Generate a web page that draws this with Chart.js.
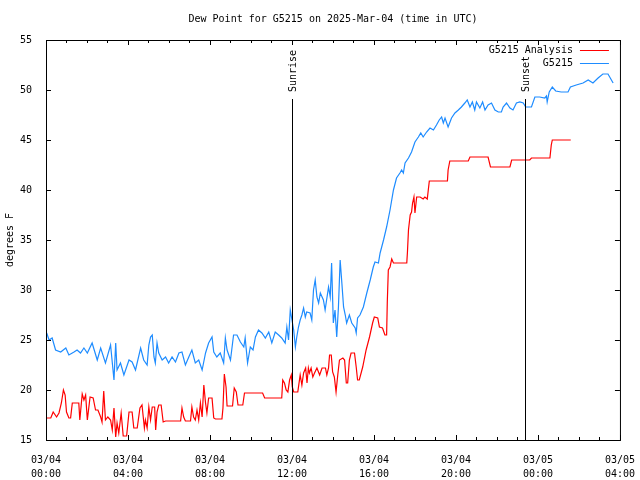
<!DOCTYPE html>
<html>
<head>
<meta charset="utf-8">
<title>Dew Point for G5215</title>
<script src="https://cdn.jsdelivr.net/npm/chart.js@4.4.1/dist/chart.umd.min.js"></script>
<style>
    html, body { margin: 0; padding: 0; background: #fff; }
    #wrap { width: 640px; height: 480px; }
</style>
</head>
<body>
<div id="wrap"><canvas id="dewChart" width="640" height="480"></canvas></div>
<script>
// time is minutes after 2025-03-04 00:00 UTC
const stationMinutes = [2,9,18,28,43,58,67,82,91,101,111,121,135,150,160,174,189,199,204,208,218,228,243,252,262,277,286,296,301,306,311,316,320,325,330,340,350,359,369,379,389,398,408,418,427,437,447,457,467,476,486,491,500,510,520,525,530,540,549,559,569,579,583,590,598,606,613,622,632,642,652,661,671,681,690,700,705,710,715,720,725,730,734,739,744,749,754,759,763,773,778,783,788,793,798,803,812,817,827,832,836,841,846,851,856,861,866,871,876,880,888,895,905,908,912,919,929,939,949,958,963,973,978,988,997,1007,1017,1026,1036,1041,1046,1051,1061,1070,1080,1090,1097,1104,1114,1124,1134,1143,1151,1158,1163,1168,1177,1187,1197,1207,1216,1226,1233,1241,1248,1255,1260,1270,1278,1285,1294,1304,1314,1324,1333,1338,1348,1358,1367,1377,1387,1397,1404,1421,1431,1445,1460,1465,1467,1473,1482,1492,1508,1528,1535,1552,1572,1587,1601,1616,1630,1645,1660];
const stationDew = [25.7,25.0,25.2,24.0,23.8,24.2,23.5,23.8,24.0,23.7,24.2,23.7,24.7,23.0,24.2,22.7,24.5,21.0,24.7,22.0,22.7,21.5,23.0,22.8,22.0,24.2,23.0,22.5,24.5,25.3,25.5,23.3,22.7,24.7,23.7,23.0,23.3,22.7,23.3,22.8,23.7,23.8,22.5,23.3,24.0,22.7,23.0,22.0,23.7,24.7,25.3,23.8,23.3,23.7,22.7,25.2,24.0,23.0,25.5,25.5,24.8,24.3,25.2,22.7,24.3,24.0,25.3,26.0,25.7,25.2,25.8,24.7,25.8,25.5,25.2,24.7,26.3,25.0,28.0,27.0,26.0,24.3,25.3,26.3,27.0,27.5,28.2,27.3,27.8,27.7,27.0,30.0,31.0,29.3,28.7,29.7,29.0,28.0,30.3,29.3,32.7,26.7,28.0,25.3,28.3,33.0,30.7,28.3,27.5,26.7,27.5,26.7,26.2,25.7,27.2,27.5,28.3,29.7,31.0,32.3,32.8,32.7,33.7,35.0,36.3,38.0,40.0,41.2,41.7,42.0,41.7,42.7,43.2,43.8,44.8,45.3,45.7,45.3,45.8,46.2,46.0,46.5,47.0,47.3,46.7,47.2,46.3,47.2,47.7,48.0,48.3,48.7,49.0,48.3,48.8,48.0,48.8,48.2,48.8,48.0,48.5,48.7,48.0,47.8,47.8,48.3,48.7,48.2,48.0,48.7,48.8,48.7,48.3,48.3,49.3,49.3,49.2,49.4,48.8,49.8,50.3,49.9,49.8,49.8,50.3,50.5,50.7,51.0,50.7,51.2,51.6,51.6,50.7];

const analysisMinutes = [2,14,21,31,38,45,51,56,60,67,72,77,96,99,106,111,116,121,129,138,145,152,160,164,169,174,181,189,194,199,204,208,213,220,226,236,243,252,257,267,275,281,288,291,296,301,306,311,318,321,325,330,337,343,350,394,398,403,408,423,427,432,437,442,447,452,457,462,467,471,476,486,491,496,515,518,522,527,530,546,551,557,562,576,581,634,640,690,693,698,703,708,713,718,721,725,737,744,749,754,760,764,768,771,776,781,786,793,801,808,818,822,827,830,835,839,844,849,854,859,869,874,879,883,888,893,903,908,912,917,927,937,947,956,961,971,976,985,992,997,999,1002,1007,1012,1017,1056,1058,1061,1066,1070,1073,1077,1080,1085,1095,1104,1109,1116,1119,1122,1175,1177,1182,1236,1241,1294,1301,1358,1363,1416,1421,1475,1479,1482,1536];
const analysisDew = [17.2,17.2,17.8,17.3,17.7,18.7,20.0,19.5,17.8,17.2,17.2,18.7,18.7,17.0,19.6,19.0,19.5,17.0,19.3,19.2,18.0,18.0,17.3,16.8,19.9,17.0,17.3,17.0,16.0,18.2,15.3,16.7,15.7,17.7,15.4,15.4,17.8,17.8,16.2,16.2,18.2,18.5,16.2,17.0,16.2,18.3,17.0,18.3,18.3,16.0,17.8,18.5,18.5,16.8,16.9,16.9,18.2,17.3,16.9,16.9,18.3,17.3,17.0,18.0,17.0,18.7,17.3,20.5,18.7,17.7,19.2,19.2,17.2,17.1,17.1,18.2,21.6,20.3,18.4,18.4,20.2,19.8,18.5,18.5,19.7,19.7,19.2,19.2,21.0,20.7,20.0,19.8,21.0,21.5,20.3,19.8,19.8,21.5,20.5,21.7,22.2,20.7,22.2,21.7,22.2,21.3,21.7,22.2,21.5,22.2,22.2,21.5,22.2,23.5,23.5,21.8,21.3,19.8,21.5,23.0,23.2,23.0,20.7,20.7,23.0,23.7,23.7,22.3,21.0,21.0,22.3,24.0,25.3,26.7,27.3,27.2,26.3,26.2,25.5,25.5,28.8,32.0,32.3,33.1,32.7,32.7,33.8,36.0,37.5,37.8,38.7,39.3,37.7,39.3,39.3,39.1,39.3,39.1,40.0,40.9,40.9,42.0,42.9,42.9,43.3,43.3,42.3,42.3,43.0,43.0,43.2,43.2,44.5,45.0,45.0];

const xTickLabels = [
    ['03/04', '00:00'], ['03/04', '04:00'], ['03/04', '08:00'], ['03/04', '12:00'],
    ['03/04', '16:00'], ['03/04', '20:00'], ['03/05', '00:00'], ['03/05', '04:00']
];
const sunEvents = [
    { label: 'Sunrise', minute: 719 },
    { label: 'Sunset', minute: 1402 }
];

const FONT = '"DejaVu Sans Mono", "Liberation Mono", monospace';

function toPoints(times, values) {
    return times.map((t, i) => ({ x: t, y: values[i] }));
}

// gnuplot look: frame, inward ticks, sun markers, legend inside the plot
const gnuplotDecor = {
    id: 'gnuplotDecor',
    afterDatasetsDraw(chart) {
        const { ctx, chartArea: a, scales: { x, y } } = chart;
        ctx.save();
        ctx.strokeStyle = '#000';
        ctx.fillStyle = '#000';
        ctx.lineWidth = 1;

        // sunrise / sunset
        ctx.font = '10px ' + FONT;
        sunEvents.forEach(ev => {
            const px = Math.round(x.getPixelForValue(ev.minute)) + 0.5;
            ctx.beginPath();
            ctx.moveTo(px, a.top + 59);
            ctx.lineTo(px, a.bottom);
            ctx.stroke();
            ctx.save();
            ctx.translate(px + 1, a.top + 52);
            ctx.rotate(-Math.PI / 2);
            ctx.textAlign = 'left';
            ctx.textBaseline = 'middle';
            ctx.fillText(ev.label, 0, 0);
            ctx.restore();
        });

        // ticks
        ctx.beginPath();
        x.ticks.forEach(t => {
            const px = Math.round(x.getPixelForValue(t.value)) + 0.5;
            const len = t.value % 240 === 0 ? 5 : 3;
            ctx.moveTo(px, a.bottom); ctx.lineTo(px, a.bottom - len);
            ctx.moveTo(px, a.top); ctx.lineTo(px, a.top + len);
        });
        y.ticks.forEach(t => {
            const py = Math.round(y.getPixelForValue(t.value)) + 0.5;
            ctx.moveTo(a.left, py); ctx.lineTo(a.left + 5, py);
            ctx.moveTo(a.right, py); ctx.lineTo(a.right - 5, py);
        });
        ctx.stroke();
        ctx.strokeRect(a.left + 0.5, a.top + 0.5, a.right - a.left, a.bottom - a.top);

        // legend
        ctx.textAlign = 'right';
        ctx.textBaseline = 'middle';
        chart.data.datasets.forEach((ds, i) => {
            const ly = a.top + 10 + i * 13;
            ctx.fillStyle = '#000';
            ctx.fillText(ds.label, a.right - 47, ly);
            ctx.strokeStyle = ds.borderColor;
            ctx.beginPath();
            ctx.moveTo(a.right - 40, ly + 0.5);
            ctx.lineTo(a.right - 11, ly + 0.5);
            ctx.stroke();
        });
        ctx.restore();
    }
};

new Chart(document.getElementById('dewChart'), {
    type: 'line',
    data: {
        datasets: [
            {
                label: 'G5215 Analysis',
                data: toPoints(analysisMinutes, analysisDew),
                borderColor: '#ff0000',
                borderWidth: 1.2,
                pointRadius: 0,
                tension: 0,
                fill: false
            },
            {
                label: 'G5215',
                data: toPoints(stationMinutes, stationDew),
                borderColor: '#1e8cff',
                borderWidth: 1.2,
                pointRadius: 0,
                tension: 0,
                fill: false
            }
        ]
    },
    options: {
        responsive: false,
        animation: false,
        layout: { padding: { left: 0, right: 19, top: 0, bottom: 0 } },
        plugins: {
            legend: { display: false },
            tooltip: { enabled: false },
            title: {
                display: true,
                fullSize: false,
                text: 'Dew Point for G5215 on 2025-Mar-04 (time in UTC)',
                color: '#000',
                font: { family: FONT, size: 10, weight: 'normal', lineHeight: 1.2 },
                padding: { top: 13, bottom: 15 }
            }
        },
        scales: {
            x: {
                type: 'linear',
                min: 0,
                max: 1680,
                grid: { display: false },
                border: { display: false },
                afterFit(scale) { scale.height = 40; },
                ticks: {
                    stepSize: 60,
                    autoSkip: false,
                    maxRotation: 0,
                    minRotation: 0,
                    padding: 5,
                    color: '#000',
                    font: { family: FONT, size: 10, lineHeight: 1.4 },
                    callback: v => (v % 240 === 0 ? xTickLabels[v / 240] : '')
                }
            },
            y: {
                min: 15,
                max: 55,
                grid: { display: false },
                border: { display: false },
                afterFit(scale) { scale.width = 46; },
                title: {
                    display: true,
                    text: 'degrees F',
                    color: '#000',
                    font: { family: FONT, size: 10, lineHeight: 1.2 },
                    padding: { top: 4, bottom: 0 }
                },
                ticks: {
                    stepSize: 5,
                    padding: 6,
                    color: '#000',
                    font: { family: FONT, size: 10 }
                }
            }
        }
    },
    plugins: [gnuplotDecor]
});
</script>
</body>
</html>
